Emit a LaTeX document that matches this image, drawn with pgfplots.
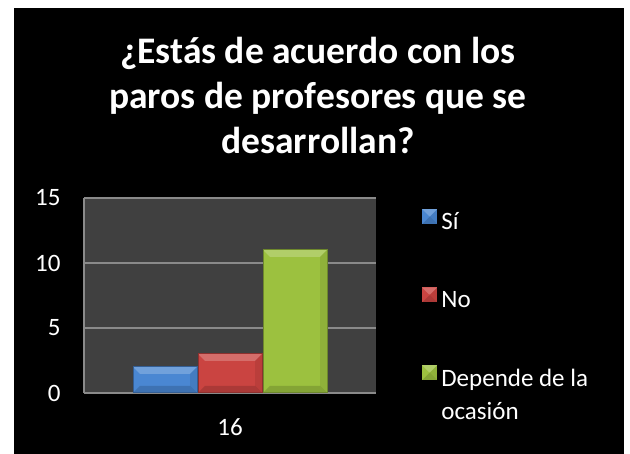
\documentclass[border=0pt]{standalone}
\usepackage{pgfplots}
\pgfplotsset{compat=1.18}
\usepackage{fontspec}
\setmainfont{Carlito}
\definecolor{cblue}{HTML}{4A87D2}
\definecolor{cred}{HTML}{CA4441}
\definecolor{cgreen}{HTML}{9CC13F}
\definecolor{plotbg}{HTML}{404040}
\definecolor{gridc}{HTML}{8A8A8A}
\tikzset{bevel/.style={path picture={
  \fill[white,opacity=0.22,draw=none,path picture={}] (path picture bounding box.north west) -- (path picture bounding box.north east) -- ([xshift=-7bp,yshift=-7bp]path picture bounding box.north east) -- ([xshift=7bp,yshift=-7bp]path picture bounding box.north west) -- cycle;
  \fill[black,opacity=0.15,draw=none,path picture={}] (path picture bounding box.south west) -- (path picture bounding box.south east) -- ([xshift=-7bp,yshift=7bp]path picture bounding box.south east) -- ([xshift=7bp,yshift=7bp]path picture bounding box.south west) -- cycle;
  \fill[black,opacity=0.08,draw=none,path picture={}] (path picture bounding box.north east) -- (path picture bounding box.south east) -- ([xshift=-7bp,yshift=7bp]path picture bounding box.south east) -- ([xshift=-7bp,yshift=-7bp]path picture bounding box.north east) -- cycle;
}}}
\begin{document}
\begin{tikzpicture}[x=1bp,y=1bp]
\fill[white] (0,0) rectangle (630,454);
\fill[black] (14,0) rectangle (624,446);
\node[anchor=base,text=white,font=\fontsize{37.5bp}{44bp}\selectfont\bfseries] at (318,390) {¿Estás de acuerdo con los};
\node[anchor=base,text=white,font=\fontsize{37.5bp}{44bp}\selectfont\bfseries] at (318,345) {paros de profesores que se};
\node[anchor=base,text=white,font=\fontsize{37.5bp}{44bp}\selectfont\bfseries] at (318,300) {desarrollan?};
\begin{axis}[
  at={(84bp,61bp)}, anchor=south west,
  width=292bp, height=195bp, scale only axis,
  xmin=-0.5, xmax=0.5, ymin=0, ymax=15,
  ytick={0,5,10,15}, xtick={0}, xticklabels={16},
  extra x ticks={-0.5}, extra x tick labels={}, extra x tick style={grid=major},
  axis line style={draw=none},
  axis background/.style={fill=plotbg, draw=none},
  ymajorgrids, grid style={draw=gridc, line width=1.2bp},
  major tick length=0pt,
  /pgf/number format/assume math mode=true,
  tick label style={text=white, font=\fontsize{25bp}{30bp}\selectfont},
  yticklabel style={xshift=-20bp},
  xticklabel style={yshift=-22bp},
  ybar=1bp, bar width=64bp,
  legend style={at={(1,1)}, anchor=north west, xshift=43bp, yshift=-9bp,
    draw=none, fill=none, text=white, font=\fontsize{25bp}{33bp}\selectfont,
    row sep=56bp, nodes={inner sep=0pt}},
  legend cell align=left,
  legend image code/.code={\fill[#1,draw=none] (0bp,-2bp) rectangle (15bp,13bp);},
]
\addplot[fill=cblue, draw=cblue!70!black, line width=1bp, bevel] coordinates {(0,2)};
\addlegendentry{\,Sí}
\addplot[fill=cred, draw=cred!70!black, line width=1bp, bevel] coordinates {(0,3)};
\addlegendentry{\,No}
\addplot[fill=cgreen, draw=cgreen!70!black, line width=1bp, bevel] coordinates {(0,11)};
\addlegendentry{\vtop{\hbox{\,Depende de la}\hbox{\,ocasión}}}
\end{axis}
\end{tikzpicture}
\end{document}
